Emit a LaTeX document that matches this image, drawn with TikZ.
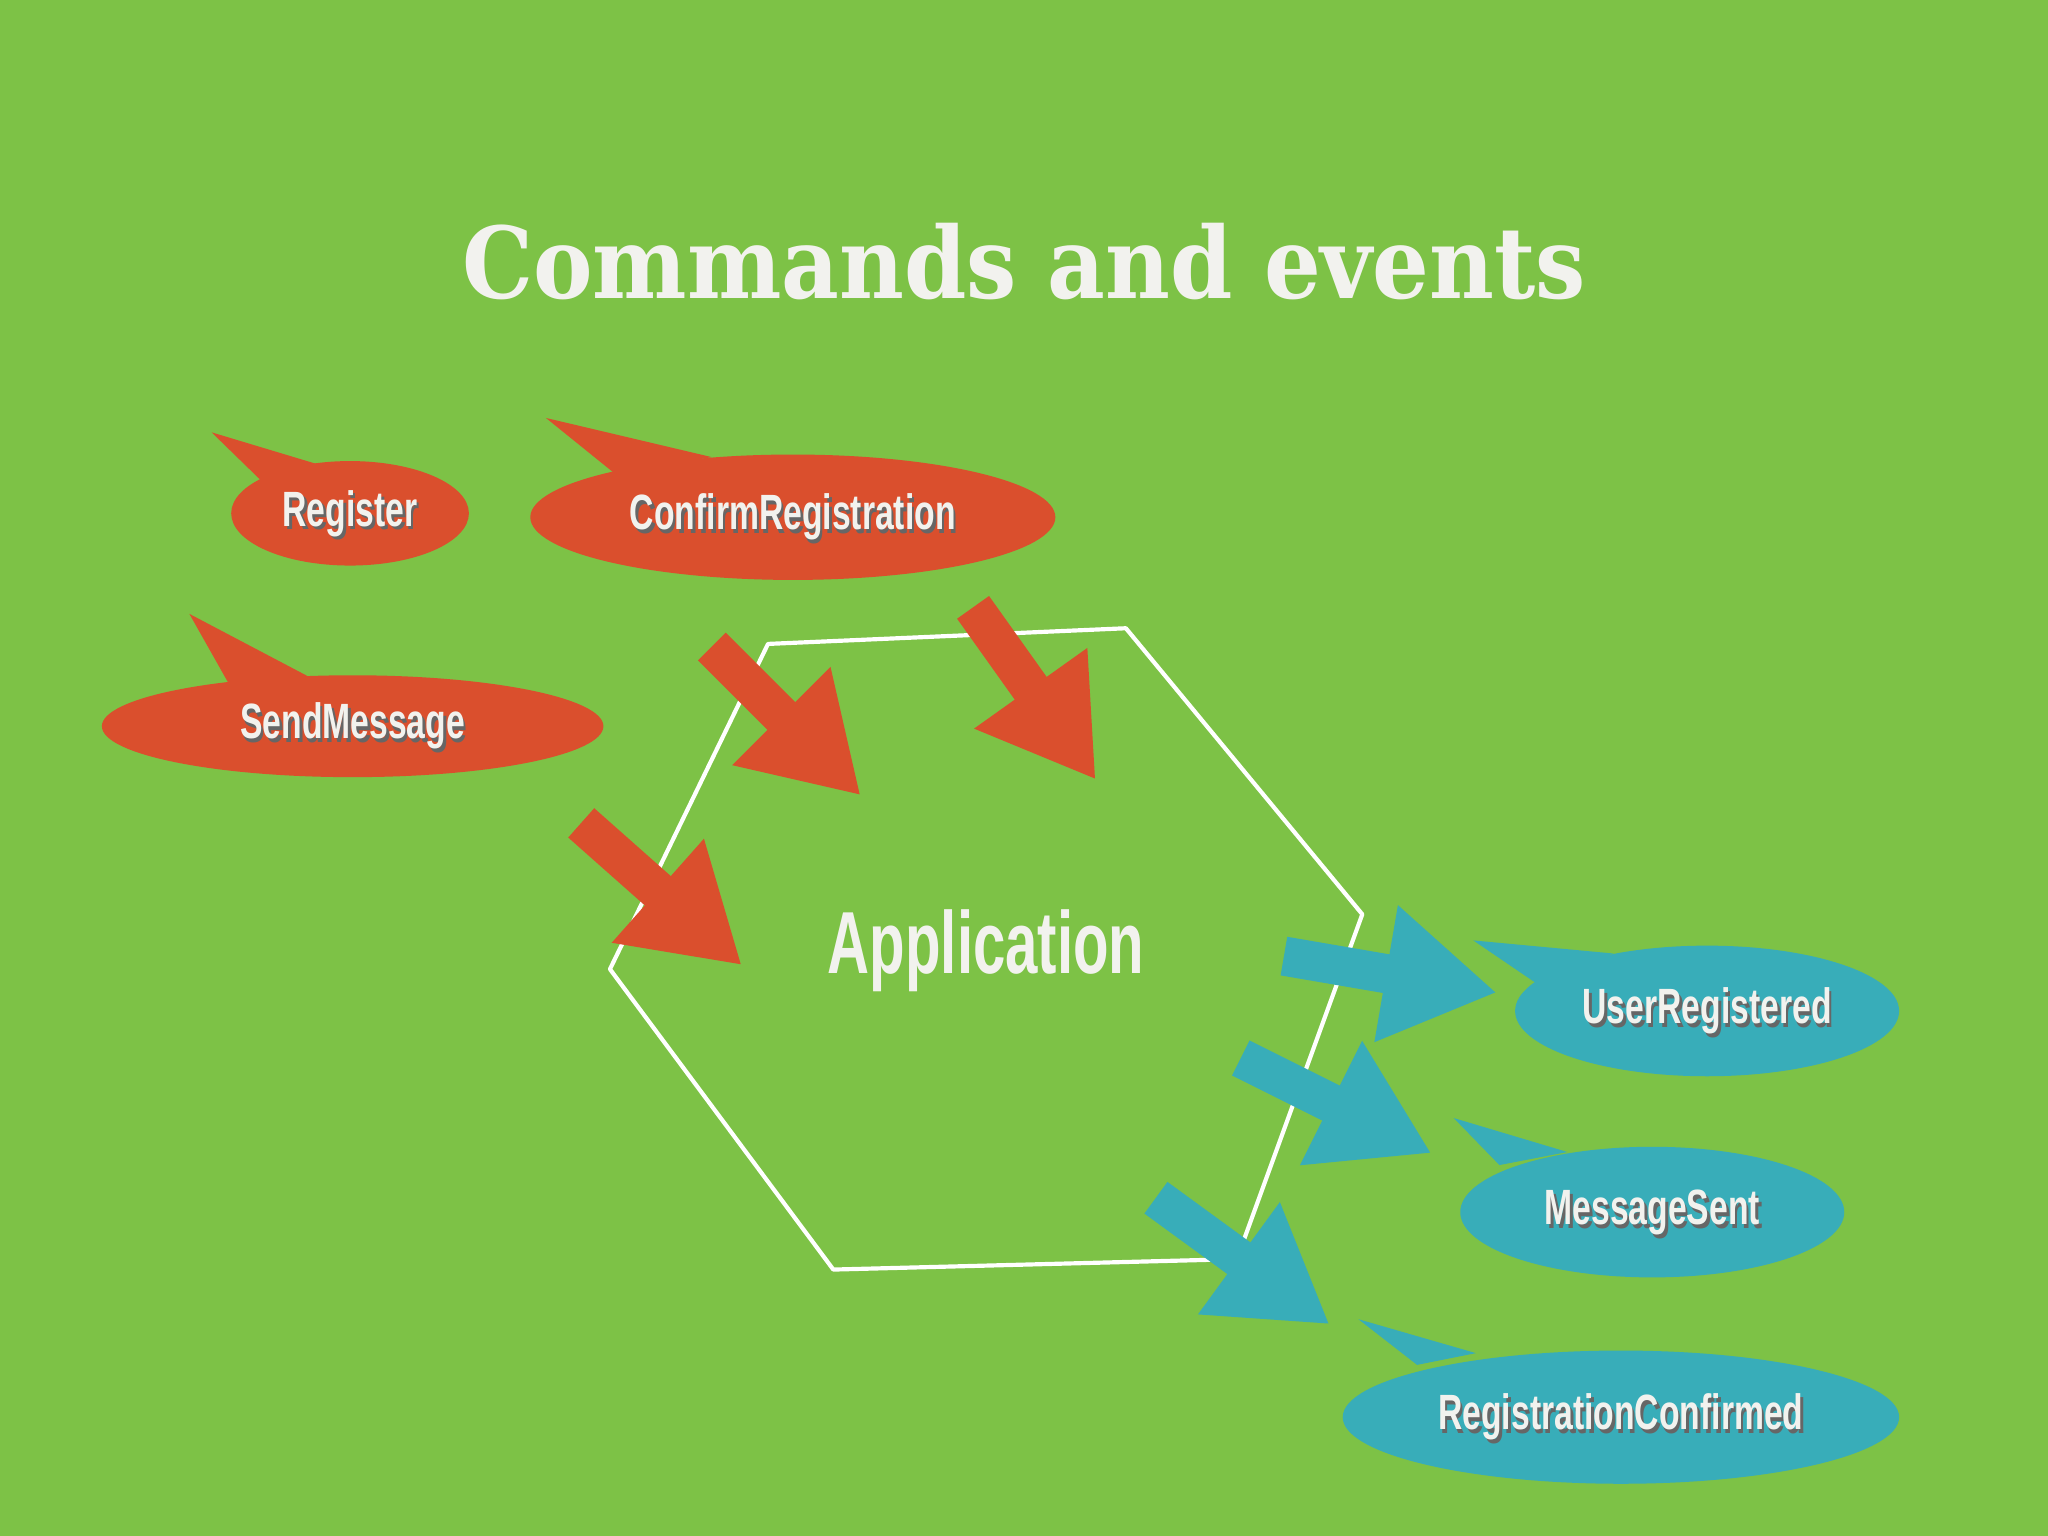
\documentclass[tikz,border=0pt]{standalone}
\usepackage{fontspec}
\setmainfont{Liberation Sans}
\newfontfamily\lblfont[FakeStretch=0.68]{Liberation Sans Bold}
\newfontfamily\appfont[FakeStretch=0.66]{Liberation Sans Bold}
\newfontfamily\titlefont[FakeStretch=0.9]{DejaVu Serif Bold}
\usetikzlibrary{arrows.meta}
\definecolor{bg}{HTML}{7DC246}
\definecolor{cmd}{HTML}{DA4F2D}
\definecolor{evt}{HTML}{38ADB9}
\definecolor{txt}{HTML}{F2F2EE}
\begin{document}
\begin{tikzpicture}[x=0.05cm,y=-0.05cm,
  lbl/.style={text=txt,font=\lblfont\fontsize{54}{54}\selectfont},
  fat/.style={line width=1.5cm,-{Triangle[width=5cm,length=4.3cm]}}]
\fill[bg] (0,0) rectangle (1568,1176);
\useasboundingbox (0,0) rectangle (1568,1176);
\node[text=txt,font=\titlefont\fontsize{108}{108}\selectfont] (title) at (784,200) {Commands and events};
% bubbles
\newcommand\bubble[9]{% color, cx,cy, rx,ry, tipx,tipy, b1x,b2x offsets
  \fill[#1] (#2,#3) ellipse [x radius=#4*0.05cm,y radius=#5*0.05cm];
  \fill[#1] (#6,#7) -- (#8) -- (#9) -- cycle;}
\bubble{cmd}{268}{393}{91}{40}{162}{331}{200,368}{245,356}
\bubble{cmd}{607}{396}{201}{48}{418}{320}{470,362}{545,350}
\bubble{cmd}{270}{556}{192}{39}{145}{470}{180,532}{240,520}
\bubble{evt}{1307}{774}{147}{50}{1128}{720}{1175,752}{1235,730}
\bubble{evt}{1265}{928}{147}{50}{1113}{856}{1148,892}{1200,882}
\bubble{evt}{1241}{1085}{213}{51}{1040}{1010}{1085,1045}{1130,1036}
\foreach \n/\x/\y/\t in {r/268/393/Register,c/607/396/ConfirmRegistration,s/270/556/SendMessage,u/1307/774/UserRegistered,m/1265/928/MessageSent,rc/1241/1085/RegistrationConfirmed}{
  \node[lbl,text=black!60] at (\x+2,\y+3) {\t};
  \node[lbl] (\n) at (\x,\y) {\t};}
% hexagon
\draw[white,line width=1.6mm,line join=round] (588,493) -- (862,481) -- (1043,700) -- (947,964) -- (638,972) -- (467,742) -- cycle;
\node[text=txt,font=\appfont\fontsize{96}{96}\selectfont] (app) at (755,728) {Application};
% arrows
\coordinate (a1) at (545,495); \coordinate (a1t) at (659,609);
\coordinate (a2) at (745,465); \coordinate (a2t) at (839,597);
\coordinate (a3) at (445,630); \coordinate (a3t) at (568,739);
\coordinate (e1) at (983,732); \coordinate (e1t) at (1146,760);
\coordinate (e2) at (950,810); \coordinate (e2t) at (1096,883);
\coordinate (e3) at (885,917); \coordinate (e3t) at (1018,1014);
\draw[fat,cmd] (a1) -- (a1t);
\draw[fat,cmd] (a2) -- (a2t);
\draw[fat,cmd] (a3) -- (a3t);
\draw[fat,evt] (e1) -- (e1t);
\draw[fat,evt] (e2) -- (e2t);
\draw[fat,evt] (e3) -- (e3t);
\end{tikzpicture}
\end{document}
